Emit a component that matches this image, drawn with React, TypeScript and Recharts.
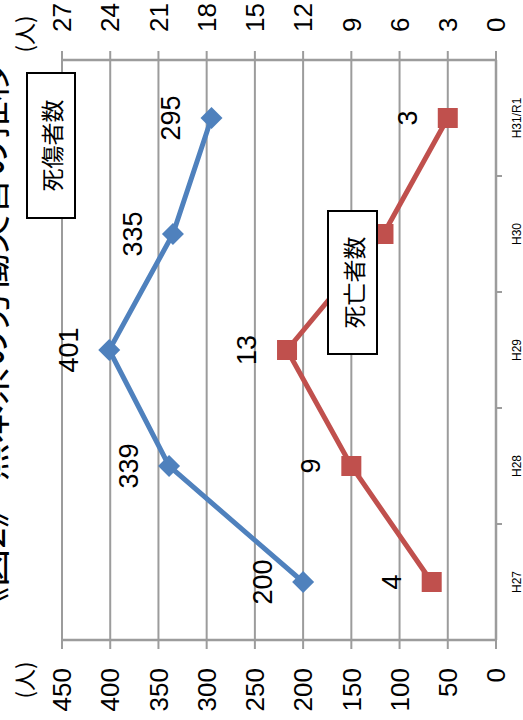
import React from "react";
import { LineChart, Line, XAxis, YAxis, CartesianGrid, LabelList } from "recharts";

const years = ["H27", "H28", "H29", "H30", "H31/R1"];
const casualties = [200, 339, 401, 335, 295];
const deaths = [4, 9, 13, 7, 3];
const leftTicks = [0, 50, 100, 150, 200, 250, 300, 350, 400, 450];
const rightTicks = [0, 3, 6, 9, 12, 15, 18, 21, 24, 27];
const titleText = "《図2》 熊本県の労働災害の推移";
const unitText = "(人)";
const casualtyName = "死傷者数";
const deathName = "死亡者数";

const data = years.map((y, i) => ({ year: y, casualties: casualties[i], deaths: deaths[i] }));

const W = 720;
const H = 523;
const HALF_BAND = 58;
const GRID = "#9c9c9c";
const BLUE = "#4F81BD";
const RED = "#C0504D";
const NUM_FONT = "'Liberation Sans', Arial, sans-serif";
const CJK_FONT = "'Noto Sans CJK JP', sans-serif";

const CategoryTick = (props: any) => {
  const { x, y, payload, index } = props;
  return (
    <g>
      <text x={x} y={y + 15} textAnchor="middle" dominantBaseline="central" fontSize={12} fontFamily={NUM_FONT} fill="#000">
        {payload.value}
      </text>
      {index < years.length - 1 && (
        <line x1={x + HALF_BAND} x2={x + HALF_BAND} y1={y - 6} y2={y} stroke={GRID} strokeWidth={2} />
      )}
    </g>
  );
};

const Diamond = (props: any) => {
  const { cx, cy, index } = props;
  const r = 11;
  return <polygon key={"d" + index} points={`${cx},${cy - r} ${cx + r},${cy} ${cx},${cy + r} ${cx - r},${cy}`} fill={BLUE} />;
};

const Square = (props: any) => {
  const { cx, cy, index } = props;
  const r = 10;
  return <rect key={"s" + index} x={cx - r} y={cy - r} width={2 * r} height={2 * r} fill={RED} />;
};

const renderLabel = (props: any) => {
  const { x, y, value, index } = props;
  return (
    <text key={"l" + index} x={x} y={y - 40} textAnchor="middle" dominantBaseline="central" fontSize={27} fontFamily={NUM_FONT} fill="#000">
      {value}
    </text>
  );
};

export default function App() {
  return (
    <div style={{ position: "absolute", left: 0, top: 0, width: 523, height: 720, overflow: "hidden", background: "#fff" }}>
      <div
        style={{
          position: "absolute",
          left: 0,
          top: 0,
          width: W,
          height: H,
          transformOrigin: "0 0",
          transform: `translateY(${W}px) rotate(-90deg)`,
        }}
      >
        <LineChart width={W} height={H} data={data} margin={{ top: 62, right: 0, bottom: 0, left: 0 }}>
          <CartesianGrid yAxisId="left" vertical={false} stroke={GRID} strokeWidth={2} />
          <XAxis
            dataKey="year"
            height={27}
            padding={{ left: HALF_BAND, right: HALF_BAND }}
            axisLine={{ stroke: GRID, strokeWidth: 2.5 }}
            tickLine={false}
            tickSize={6}
            tickMargin={0}
            interval={0}
            tick={<CategoryTick />}
          />
          <YAxis
            yAxisId="left"
            width={80}
            domain={[0, 450]}
            ticks={leftTicks}
            interval={0}
            tickSize={9}
            tickMargin={19}
            axisLine={{ stroke: GRID, strokeWidth: 2.5 }}
            tickLine={{ stroke: GRID, strokeWidth: 2 }}
            tick={{ fontSize: 26, fill: "#000", fontFamily: NUM_FONT }}
          />
          <YAxis
            yAxisId="right"
            orientation="right"
            width={60}
            domain={[0, 27]}
            ticks={rightTicks}
            interval={0}
            tickSize={9}
            tickMargin={19}
            axisLine={{ stroke: GRID, strokeWidth: 2.5 }}
            tickLine={{ stroke: GRID, strokeWidth: 2 }}
            tick={{ fontSize: 26, fill: "#000", fontFamily: NUM_FONT }}
          />
          <Line
            yAxisId="left"
            dataKey="casualties"
            stroke={BLUE}
            strokeWidth={5}
            dot={Diamond}
            activeDot={false}
            isAnimationActive={false}
          >
            <LabelList dataKey="casualties" content={renderLabel} />
          </Line>
          <Line
            yAxisId="right"
            dataKey="deaths"
            stroke={RED}
            strokeWidth={5}
            dot={Square}
            activeDot={false}
            isAnimationActive={false}
          >
            <LabelList dataKey="deaths" content={renderLabel} />
          </Line>
        </LineChart>
        <svg width={W} height={H} style={{ position: "absolute", left: 0, top: 0, pointerEvents: "none" }}>
          <text x={376} y={5} textAnchor="middle" fontSize={38} fontFamily={CJK_FONT} fill="#000">
            {titleText}
          </text>
          <text x={40} y={23} textAnchor="middle" dominantBaseline="central" fontSize={22} fontFamily={CJK_FONT} fill="#000">
            {unitText}
          </text>
          <text x={686} y={23} textAnchor="middle" dominantBaseline="central" fontSize={22} fontFamily={CJK_FONT} fill="#000">
            {unitText}
          </text>
          <rect x={502} y={27} width={145} height={48} fill="#fff" stroke="#000" strokeWidth={2} />
          <text x={574.5} y={51} textAnchor="middle" dominantBaseline="central" fontSize={23} fontFamily={CJK_FONT} fill="#000">
            {casualtyName}
          </text>
          <rect x={366} y={328} width={143} height={49} fill="#fff" stroke="#000" strokeWidth={2} />
          <text x={437.5} y={352.5} textAnchor="middle" dominantBaseline="central" fontSize={23} fontFamily={CJK_FONT} fill="#000">
            {deathName}
          </text>
        </svg>
      </div>
    </div>
  );
}
